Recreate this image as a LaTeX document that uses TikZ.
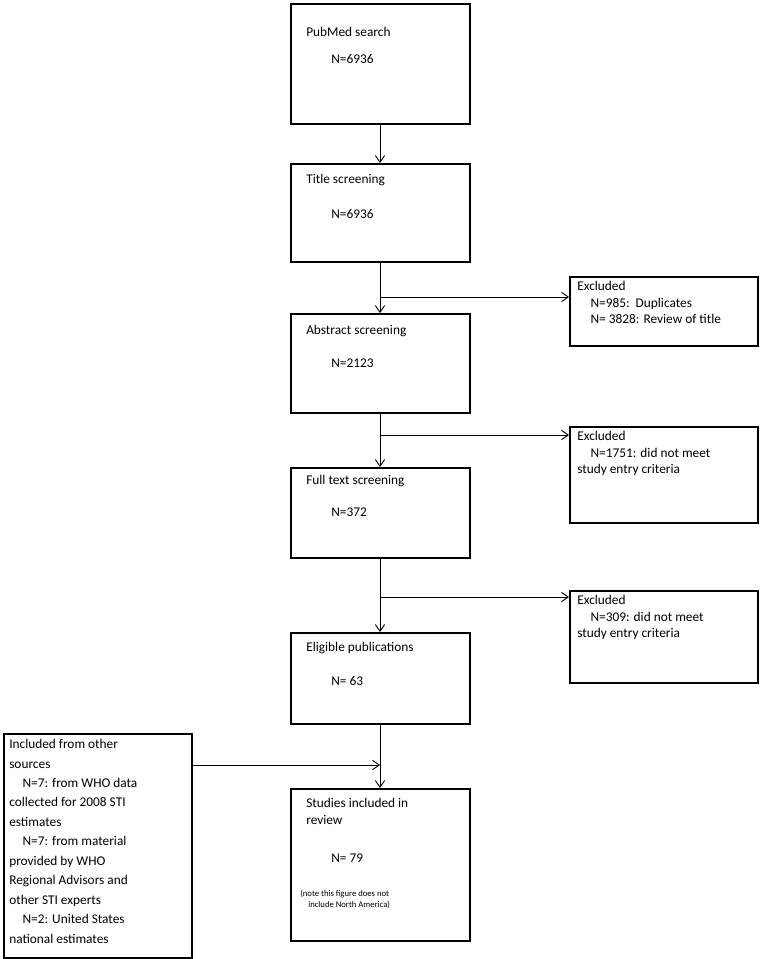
\documentclass[tikz,border=0pt]{standalone}
\usepackage{fontspec}
\setmainfont{Carlito}
\usetikzlibrary{arrows.meta}
\begin{document}
\begin{tikzpicture}[x=0.75pt, y=-0.75pt,
    >={Straight Barb[length=5pt,width=7pt]},
    % Styles
    box/.style={draw, line width=1.3pt, anchor=north west, inner sep=0pt},
    txt/.style={anchor=north west, font=\fontsize{10}{12.5}\selectfont, align=left, inner sep=0pt},
    arrow/.style={->, line width=0.7pt},
  ]
  \useasboundingbox (0,0) rectangle (762,959);

  % Main column
  \node[box, minimum width=179*0.75pt, minimum height=120*0.75pt] (pubmed) at (290,3) {};
  \node[txt] at (306,27) {PubMed search};
  \node[txt] at (331,54) {N=6936};

  \node[box, minimum width=179*0.75pt, minimum height=98*0.75pt] (title) at (290,163) {};
  \node[txt] at (306,174) {Title screening};
  \node[txt] at (331,209) {N=6936};

  \node[box, minimum width=179*0.75pt, minimum height=99*0.75pt] (abstract) at (290,313) {};
  \node[txt] at (306,325) {Abstract screening};
  \node[txt] at (331,359) {N=2123};

  \node[box, minimum width=179*0.75pt, minimum height=90*0.75pt] (fulltext) at (290,467) {};
  \node[txt] at (306,475) {Full text screening};
  \node[txt] at (331,508) {N=372};

  \node[box, minimum width=179*0.75pt, minimum height=91*0.75pt] (eligible) at (290,632) {};
  \node[txt] at (306,642) {Eligible publications};
  \node[txt] at (331,676) {N= 63};

  \node[box, minimum width=179*0.75pt, minimum height=152*0.75pt] (studies) at (290,788) {};
  \node[txt] at (306,798) {Studies included in\\review};
  \node[txt] at (331,854) {N= 79};
  \node[txt, font=\fontsize{6.5}{8}\selectfont] at (300,890) {(note this figure does not\\\hspace*{6pt}include North America)};

  % Exclusion boxes
  \node[box, minimum width=188*0.75pt, minimum height=69*0.75pt] (excl1) at (569,276) {};
  \node[txt] at (577,281) {Excluded\\\hspace*{10pt}N=985:\ \ Duplicates\\\hspace*{10pt}N= 3828: Review of title};

  \node[box, minimum width=188*0.75pt, minimum height=96*0.75pt] (excl2) at (569,426) {};
  \node[txt] at (577,431) {Excluded\\\hspace*{10pt}N=1751: did not meet\\study entry criteria};

  \node[box, minimum width=188*0.75pt, minimum height=92*0.75pt] (excl3) at (569,590) {};
  \node[txt] at (577,595) {Excluded\\\hspace*{10pt}N=309: did not meet\\study entry criteria};

  % Other sources
  \node[box, minimum width=188*0.75pt, minimum height=224*0.75pt] (other) at (3,733) {};
  \node[txt, font=\fontsize{10}{14.6}\selectfont] at (9,739) {Included from other\\sources\\\hspace*{10pt}N=7: from WHO data\\collected for 2008 STI\\estimates\\\hspace*{10pt}N=7: from material\\provided by WHO\\Regional Advisors and\\other STI experts\\\hspace*{10pt}N=2: United States\\national estimates};

  % Junction coordinates
  \coordinate (j1) at (380,297);
  \coordinate (j2) at (380,435);
  \coordinate (j3) at (380,597);
  \coordinate (j4) at (380,765);

  % Arrows
  \draw[arrow] (pubmed.south -| j1) -- (title.north -| j1);
  \draw[arrow] (title.south -| j1) -- (abstract.north -| j1);
  \draw[arrow] (abstract.south -| j1) -- (fulltext.north -| j1);
  \draw[arrow] (fulltext.south -| j1) -- (eligible.north -| j1);
  \draw[arrow] (eligible.south -| j1) -- (studies.north -| j1);
  \draw[arrow] (j1) -- (excl1.west |- j1);
  \draw[arrow] (j2) -- (excl2.west |- j2);
  \draw[arrow] (j3) -- (excl3.west |- j3);
  \draw[arrow] (other.east |- j4) -- (j4);
\end{tikzpicture}
\end{document}
